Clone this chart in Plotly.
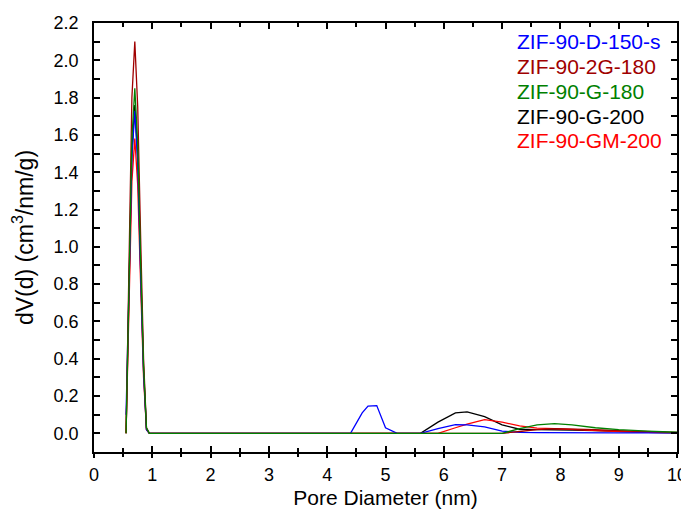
import plotly.graph_objects as go

# Pore diameter grid (nm)
pore_d = [0.55, 0.6, 0.65, 0.7, 0.75, 0.8, 0.85, 0.9, 0.95,
          1.0, 2.0, 3.0, 4.0, 4.4, 4.6, 4.7, 4.85, 5.0, 5.2,
          5.6, 5.9, 6.2, 6.4, 6.7, 7.0, 7.3, 7.6, 7.9, 8.2, 8.6, 9.0, 9.5, 10.0]

series_names = ["ZIF-90-G-200", "ZIF-90-GM-200", "ZIF-90-D-150-s", "ZIF-90-2G-180", "ZIF-90-G-180"]
series_colors = ["#000000", "#ff0000", "#0000ff", "#a00000", "#008000"]

dv_g200 = [0, 0.78, 1.50, 1.76, 1.48, 0.88, 0.34, 0.02, 0,
           0, 0, 0, 0, 0, 0, 0, 0, 0, 0,
           0, 0.06, 0.11, 0.115, 0.09, 0.045, 0.022, 0.02, 0.02, 0.018, 0.015, 0.01, 0.006, 0.003]
dv_gm200 = [0, 0.70, 1.35, 1.58, 1.33, 0.80, 0.30, 0.02, 0,
            0, 0, 0, 0, 0, 0, 0, 0, 0, 0,
            0, 0, 0.03, 0.05, 0.074, 0.06, 0.04, 0.028, 0.025, 0.02, 0.015, 0.01, 0.006, 0.003]
dv_d150s = [0.10, 0.80, 1.48, 1.73, 1.45, 0.86, 0.33, 0.02, 0,
            0, 0, 0, 0, 0, 0.11, 0.146, 0.149, 0.03, 0,
            0, 0.025, 0.047, 0.045, 0.035, 0.012, 0.005, 0.004, 0.003, 0.002, 0.002, 0.002, 0.002, 0.002]
dv_2g180 = [0, 0.92, 1.80, 2.10, 1.75, 1.05, 0.40, 0.03, 0,
            0, 0, 0, 0, 0, 0, 0, 0, 0, 0,
            0, 0, 0, 0, 0, 0, 0.01, 0.02, 0.025, 0.024, 0.02, 0.015, 0.01, 0.005]
dv_g180 = [0, 0.80, 1.58, 1.85, 1.55, 0.92, 0.36, 0.03, 0,
           0, 0, 0, 0, 0, 0, 0, 0, 0, 0,
           0, 0, 0, 0, 0, 0, 0.025, 0.045, 0.052, 0.045, 0.03, 0.02, 0.012, 0.006]

series_values = [dv_g200, dv_gm200, dv_d150s, dv_2g180, dv_g180]

legend_order = ["ZIF-90-D-150-s", "ZIF-90-2G-180", "ZIF-90-G-180", "ZIF-90-G-200", "ZIF-90-GM-200"]

x_ticks = list(range(0, 11))
y_ticks = [0.0, 0.2, 0.4, 0.6, 0.8, 1.0, 1.2, 1.4, 1.6, 1.8, 2.0, 2.2]

FONT = "Arial, 'Liberation Sans', sans-serif"

fig = go.Figure()
for name, color, vals in zip(series_names, series_colors, series_values):
    fig.add_trace(go.Scatter(x=pore_d, y=vals, mode="lines", name=name,
                             line=dict(color=color, width=1.3), showlegend=False))

# invisible trace to activate xaxis2 (outside ticks on bottom)
fig.add_trace(go.Scatter(x=[0], y=[0], xaxis="x2", mode="markers",
                         marker=dict(opacity=0), showlegend=False, hoverinfo="skip"))

color_map = dict(zip(series_names, series_colors))
legend_y = [0.958, 0.899, 0.841, 0.783, 0.725]
for nm, yy in zip(legend_order, legend_y):
    fig.add_annotation(text=nm, xref="paper", yref="paper", x=0.722, y=yy,
                       xanchor="left", yanchor="middle", showarrow=False,
                       font=dict(family=FONT, size=21, color=color_map[nm]))

# page body has an 8px default margin, so the figure is 8px smaller and margins shifted
fig.update_layout(
    width=681, height=502,
    margin=dict(l=86, r=12, t=15, b=58),
    paper_bgcolor="white", plot_bgcolor="white",
    font=dict(family=FONT, size=18, color="black"),
    xaxis=dict(range=[0, 10], tickvals=x_ticks, ticks="inside", ticklen=6, tickwidth=1.5,
               showline=True, linewidth=1.5, linecolor="black", mirror="allticks",
               showgrid=False, zeroline=False, tickcolor="black", automargin=False,
               ticklabelstandoff=6,
               minor=dict(dtick=0.5, ticks="inside", ticklen=4, tickwidth=1.5, tickcolor="black"),
               title=dict(text="Pore Diameter (nm)", font=dict(size=21), standoff=6)),
    xaxis2=dict(range=[0, 10], overlaying="x", anchor="y", side="bottom",
                tickvals=x_ticks, ticks="outside", ticklen=5, tickwidth=1.5, tickcolor="black",
                showticklabels=False, showline=False, showgrid=False, zeroline=False,
                automargin=False,
                minor=dict(dtick=0.5, ticks="outside", ticklen=4, tickwidth=1.5, tickcolor="black")),
    yaxis=dict(range=[-0.1, 2.2], tickvals=y_ticks, tickformat=".1f", ticks="inside", ticklen=6,
               tickwidth=1.5, showline=True, linewidth=1.5, linecolor="black", mirror="allticks",
               showgrid=False, zeroline=False, tickcolor="black", automargin=False,
               ticklabelstandoff=10,
               minor=dict(dtick=0.1, ticks="inside", ticklen=4, tickwidth=1.5, tickcolor="black"),
               title=dict(text="dV(d) (cm<sup>3</sup>/nm/g)", font=dict(size=23), standoff=14)),
)

fig.write_html("out.html")
